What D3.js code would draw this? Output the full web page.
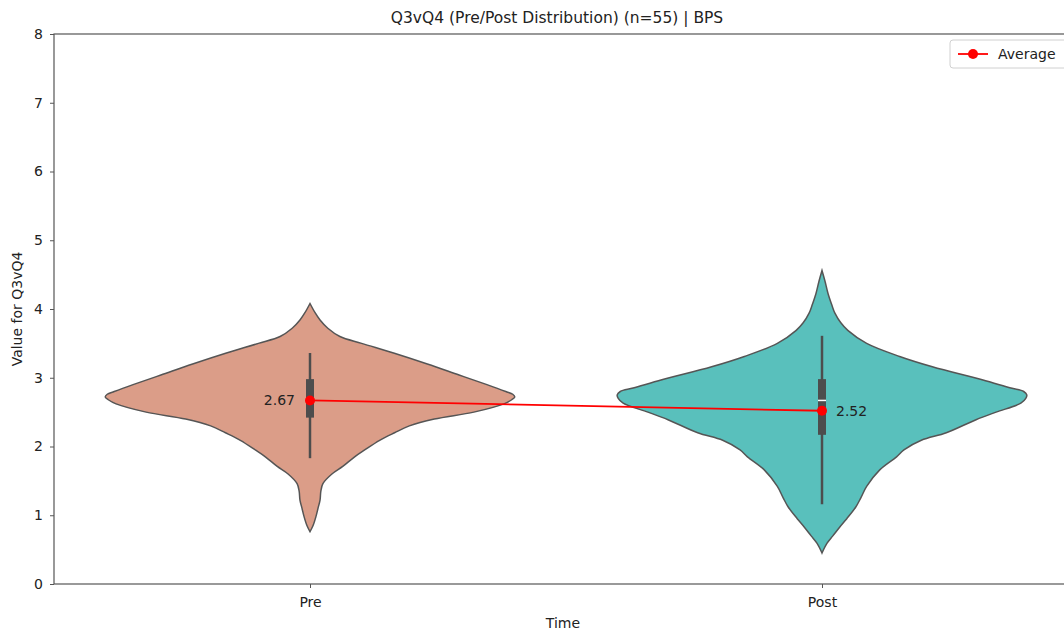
<!DOCTYPE html>
<html>
<head>
<meta charset="utf-8">
<script src="https://cdn.jsdelivr.net/npm/d3@7"></script>
<style>
  body { margin: 0; background: #fff; }
  svg { font-family: "DejaVu Sans", sans-serif; }
</style>
</head>
<body>
<svg width="1064" height="634"></svg>
<script>
// data
var groups = ["Pre", "Post"];
var groupColors = ["#db9d88", "#59c0bc"];
var means = [2.67, 2.52];
var yTicks = [0, 1, 2, 3, 4, 5, 6, 7, 8];

// violin outlines: value on y, relative density (1 = widest)
var preValues  = [4.08, 3.95, 3.84, 3.72, 3.60, 3.50, 3.36, 3.20, 3.04, 2.90, 2.80, 2.76, 2.72, 2.68, 2.62, 2.50, 2.40, 2.30, 2.20, 2.09, 1.95, 1.85, 1.71, 1.60, 1.46, 1.35, 1.22, 1.10, 0.98, 0.85, 0.76];
var preDensity = [0, 0.024, 0.049, 0.087, 0.146, 0.252, 0.408, 0.573, 0.728, 0.864, 0.956, 0.99, 1.0, 0.985, 0.947, 0.80, 0.607, 0.485, 0.413, 0.34, 0.267, 0.218, 0.160, 0.107, 0.063, 0.053, 0.049, 0.039, 0.029, 0.015, 0];
var postValues  = [4.56, 4.40, 4.23, 4.05, 3.94, 3.80, 3.69, 3.50, 3.31, 3.16, 2.97, 2.85, 2.80, 2.75, 2.70, 2.63, 2.50, 2.39, 2.20, 2.09, 1.95, 1.85, 1.66, 1.42, 1.25, 1.12, 0.95, 0.83, 0.70, 0.59, 0.45];
var postDensity = [0, 0.015, 0.029, 0.049, 0.063, 0.092, 0.126, 0.218, 0.379, 0.539, 0.782, 0.922, 0.985, 1.0, 0.995, 0.971, 0.85, 0.752, 0.607, 0.485, 0.40, 0.364, 0.282, 0.218, 0.189, 0.165, 0.121, 0.087, 0.053, 0.024, 0];

// box stats: whisker low, q1, median, q3, whisker high
var preBox  = [1.83, 2.42, 2.67, 2.98, 3.36];
var postBox = [1.16, 2.17, 2.67, 2.98, 3.61];

var svg = d3.select("svg");
var margin = {left: 54, right: 1078, top: 34, bottom: 584};
var edge = "#555555", textCol = "#222";

var x = d3.scalePoint().domain(groups).range([margin.left, margin.right]).padding(0.5);
var y = d3.scaleLinear().domain([0, 8]).range([margin.bottom, margin.top]);
var w = d3.scaleLinear().domain([0, 1]).range([0, x.step() * 0.4]);

var violins = [
  {name: "Pre", color: groupColors[0], pts: d3.zip(preValues, preDensity), box: preBox, mean: means[0]},
  {name: "Post", color: groupColors[1], pts: d3.zip(postValues, postDensity), box: postBox, mean: means[1]}
];

var g = svg.append("g");

violins.forEach(function(v) {
  var cx = x(v.name);
  var area = d3.area()
    .curve(d3.curveCatmullRom)
    .y(function(d) { return y(d[0]); })
    .x0(function(d) { return cx - w(d[1]); })
    .x1(function(d) { return cx + w(d[1]); });
  g.append("path")
    .datum(v.pts)
    .attr("d", area)
    .attr("fill", v.color)
    .attr("stroke", edge)
    .attr("stroke-width", 1.5);

  // inner box
  g.append("line")
    .attr("x1", cx).attr("x2", cx)
    .attr("y1", y(v.box[0])).attr("y2", y(v.box[4]))
    .attr("stroke", "#4d4d4d").attr("stroke-width", 2.5);
  g.append("rect")
    .attr("x", cx - 4).attr("width", 8)
    .attr("y", y(v.box[3])).attr("height", y(v.box[1]) - y(v.box[3]))
    .attr("fill", "#4d4d4d");
  g.append("line")
    .attr("x1", cx - 4).attr("x2", cx + 4)
    .attr("y1", y(v.box[2])).attr("y2", y(v.box[2]))
    .attr("stroke", "#fff").attr("stroke-width", 1.5);
});

// average line
var line = d3.line()
  .x(function(d) { return x(d.name); })
  .y(function(d) { return y(d.mean); });
g.append("path")
  .datum(violins)
  .attr("d", line)
  .attr("fill", "none")
  .attr("stroke", "#ff0000")
  .attr("stroke-width", 1.8);
g.selectAll(".dot")
  .data(violins)
  .enter().append("circle")
  .attr("cx", function(d) { return x(d.name); })
  .attr("cy", function(d) { return y(d.mean); })
  .attr("r", 5)
  .attr("fill", "#ff0000");
g.selectAll(".meanlabel")
  .data(violins)
  .enter().append("text")
  .attr("x", function(d, i) { return x(d.name) + (i == 0 ? -15 : 14); })
  .attr("y", function(d) { return y(d.mean); })
  .attr("dy", "0.35em")
  .attr("text-anchor", function(d, i) { return i == 0 ? "end" : "start"; })
  .attr("font-size", 14)
  .attr("fill", textCol)
  .text(function(d) { return d.mean.toFixed(2); });

// axes
var yAxis = svg.append("g")
  .attr("transform", "translate(" + margin.left + ",0)")
  .call(d3.axisLeft(y).tickValues(yTicks).tickSize(4).tickPadding(7));
var xAxis = svg.append("g")
  .attr("transform", "translate(0," + margin.bottom + ")")
  .call(d3.axisBottom(x).tickSize(4).tickPadding(9));
[yAxis, xAxis].forEach(function(a) {
  a.select(".domain").remove();
  a.selectAll("line").attr("stroke", edge);
  a.selectAll("text").attr("font-size", 14).attr("fill", textCol).attr("font-family", "DejaVu Sans");
});

// spines
svg.append("rect")
  .attr("x", margin.left).attr("y", margin.top)
  .attr("width", margin.right - margin.left).attr("height", margin.bottom - margin.top)
  .attr("fill", "none")
  .attr("stroke", edge)
  .attr("stroke-width", 1.2);

// titles
svg.append("text")
  .attr("x", 557).attr("y", 23)
  .attr("text-anchor", "middle")
  .attr("font-size", 15.5)
  .attr("fill", textCol)
  .text("Q3vQ4 (Pre/Post Distribution) (n=55) | BPS");
svg.append("text")
  .attr("x", 563).attr("y", 628)
  .attr("text-anchor", "middle")
  .attr("font-size", 14)
  .attr("fill", textCol)
  .text("Time");
svg.append("text")
  .attr("transform", "translate(22," + ((margin.top + margin.bottom) / 2) + ") rotate(-90)")
  .attr("text-anchor", "middle")
  .attr("font-size", 14)
  .attr("fill", textCol)
  .text("Value for Q3vQ4");

// legend
var leg = svg.append("g").attr("transform", "translate(950,40)");
leg.append("rect")
  .attr("width", 130).attr("height", 28).attr("rx", 3)
  .attr("fill", "#fff").attr("stroke", "#d0d0d0");
leg.append("line")
  .attr("x1", 8).attr("x2", 38).attr("y1", 14).attr("y2", 14)
  .attr("stroke", "#ff0000").attr("stroke-width", 1.8);
leg.append("circle").attr("cx", 23).attr("cy", 14).attr("r", 5).attr("fill", "#ff0000");
leg.append("text")
  .attr("x", 48).attr("y", 14).attr("dy", "0.35em")
  .attr("font-size", 14).attr("fill", textCol)
  .text("Average");
</script>
</body>
</html>
